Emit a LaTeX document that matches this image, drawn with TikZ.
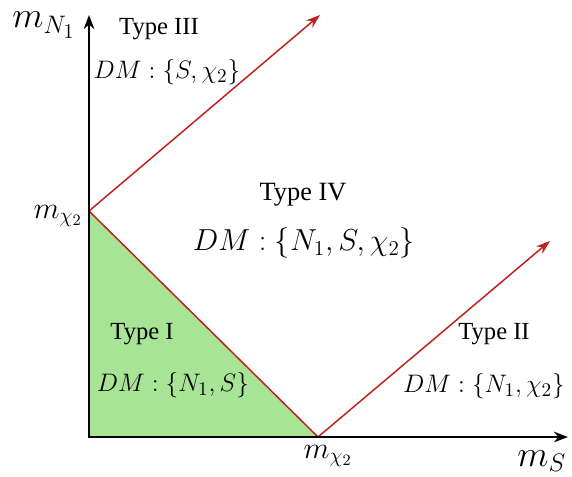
\documentclass[tikz,border=0pt]{standalone}
\usepackage[no-math]{fontspec}
\setmainfont{Liberation Serif}
\usetikzlibrary{arrows.meta}
\definecolor{PHred}{RGB}{192, 32, 30}
\definecolor{PHgreen}{RGB}{168, 228, 150}
\tikzset{
	axis/.style={line width=1.3pt, {Stealth[length=8pt, width=6pt]}-{Stealth[length=8pt, width=6pt]}},
	border/.style={draw=PHred, line width=0.85pt},
	typelabel/.style={font=\fontsize{14}{16}\selectfont, inner sep=0pt},
	dmlabel/.style={font=\fontsize{15.6}{18}\selectfont, inner sep=0pt},
	masslabel/.style={font=\fontsize{17.5}{20}\selectfont, inner sep=0pt}
}
\begin{document}
\begin{tikzpicture}[x=0.02cm, y=-0.02cm]
		\useasboundingbox (0,0) rectangle (572,477);
		
		% Corners
		\coordinate (origin) at (89,437);
		\coordinate (ytop) at (89,15);
		\coordinate (xend) at (568,437);
		\coordinate (mchiy) at (89,211);
		\coordinate (mchix) at (318,437);
		\coordinate (tipIII) at (320,15);
		\coordinate (tipII) at (550,241);
		
		% Type I region
		\fill[PHgreen] (origin) -- (mchiy) -- (mchix) -- cycle;
		
		% Borders
		\draw[border, -{Stealth[length=8pt, width=5.5pt]}] (mchiy) -- (tipIII);
		\draw[border] (mchiy) -- (mchix);
		\draw[border, -{Stealth[length=8pt, width=5.5pt]}] (mchix) -- (tipII);
		
		% Axes
		\draw[axis] (ytop) -- (origin) -- (xend);
		\node[font=\huge, inner sep=0pt] (mN) at (44,25) {$m_{N_1}$};
		\node[font=\huge, inner sep=0pt, anchor=west] (mS) at (517,461) {$m_S$};
		\node[masslabel] (mchiylabel) at (58,216) {$m_{\chi_2}$};
		\node[masslabel] (mchixlabel) at (328,456) {$m_{\chi_2}$};
		
		% Labels
		\node[typelabel] (typeIII) at (159,29) {Type III};
		\node[dmlabel] (dmIII) at (167,72) {$DM:\{S,\chi_2\}$};
		\node[typelabel, font=\fontsize{15}{18}\selectfont] (typeIV) at (303,195) {Type IV};
		\node[dmlabel, font=\fontsize{17}{20}\selectfont] (dmIV) at (304,243) {$DM:\{N_1,S,\chi_2\}$};
		\node[typelabel] (typeI) at (142,334) {Type I};
		\node[dmlabel] (dmI) at (173,385) {$DM:\{N_1,S\}$};
		\node[typelabel] (typeII) at (494,334) {Type II};
		\node[dmlabel] (dmII) at (484,386) {$DM:\{N_1,\chi_2\}$};
	\end{tikzpicture}
\end{document}
